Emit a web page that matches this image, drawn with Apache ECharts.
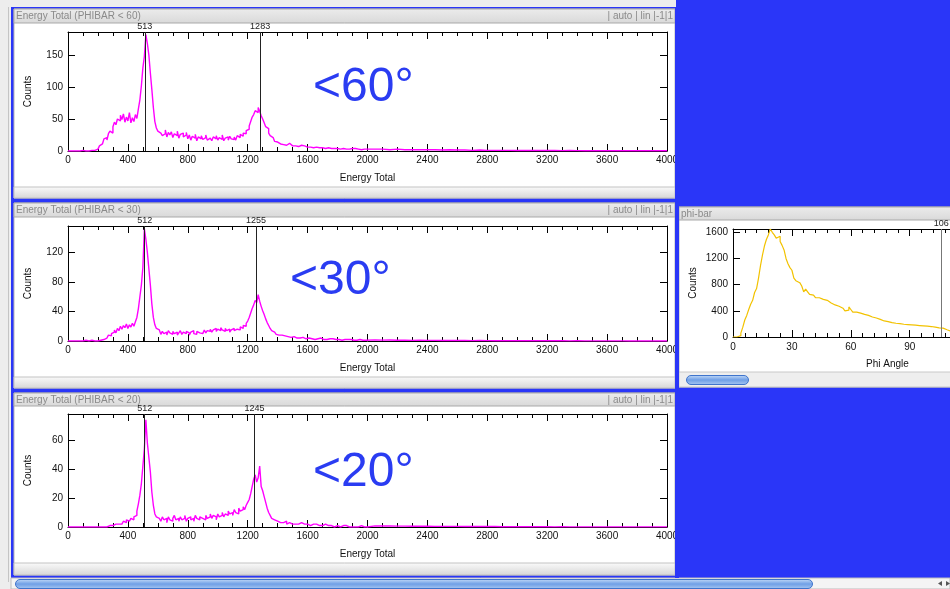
<!DOCTYPE html>
<html><head><meta charset="utf-8">
<script src="https://cdn.jsdelivr.net/npm/echarts@6/dist/echarts.min.js"></script>
<style>html,body{margin:0;padding:0;background:#2a36f8;overflow:hidden}#c{width:950px;height:589px}</style>
</head><body><div id="c"></div>
<script>
// ---------- DATA ----------
// Energy Total histograms: 10-unit bins from 0 to 2000, then 50-unit bins from 2000 to 4000
const energyFineBin = 10, energyTailBin = 50, energyTailStart = 2000, energyMax = 4000;
const energyTicks = [0, 400, 800, 1200, 1600, 2000, 2400, 2800, 3200, 3600, 4000];

const counts60Fine = [
 0,0,0,0,0,0,1,0,0,1,0,0,1,0,1,1,0,1,2,
 3,5,8,11,14,19,
 21,17,27,31,28,38,45,
 41,50,47,56,49,
 58,45,53,47,60,44,52,46,57,
 51,66,80,102,130,148,182,168,150,122,96,68,46,36,31,
 28,31,24,27,33,22,29,25,30,21,27,24,31,20,26,28,22,25,29,
 19,25,17,23,20,26,16,22,19,24,18,21,25,17,20,23,16,22,19,24,17,21,18,25,16,20,22,17,23,19,
 18,22,17,24,21,26,23,28,27,32,
 34,39,46,53,57,63,60,68,62,55,
 50,44,38,35,28,24,21,18,15,14,
 13,11,12,10,11,9,10,12,9,8,10,8,9,7,8,9,6,8,7,6,
 7,6,8,5,7,6,6,5,7,5,6,4,6,5,5,4,6,4,5,4,5,3,5,4,4,3,5,3,4,4,3,4,3,3,4,2,3,3,2,3
];
const counts60Tail = [3,3,2,3,2,2,2,2,2,1.5,2,1.5,1.5,1,1.5,1,1,1,1,0.8,1,0.8,0.8,0.7,0.8,0.6,0.7,0.6,0.5,0.6,0.5,0.5,0.4,0.5,0.4,0.4,0.3,0.4,0.3,0.3];

const counts30Fine = [
 0,0,0,0,0,0,0,0,0,0,0,1,0,0,0,1,0,0,1,0,1,1,2,
 2,3,4,6,8,7,10,
 12,15,11,17,14,20,16,21,18,23,17,22,19,24,20,
 26,32,44,60,
 76,100,152,138,120,98,76,50,32,22,17,15,
 14,9,13,10,12,8,14,11,9,13,10,12,8,11,14,9,12,10,13,11,8,12,14,10,9,13,11,12,10,
 12,15,11,14,13,16,12,15,17,13,16,14,18,15,13,17,14,16,12,15,17,14,16,18,15,19,17,21,20,24,
 27,32,38,44,49,55,52,63,54,47,
 41,36,30,25,21,17,14,12,11,9,
 8,7,8,6,7,5,6,7,5,4,6,5,4,5,4,3,5,4,3,4,
 4,3,3,4,2,3,3,2,4,3,2,3,2,2,3,2,3,2,2,1,2,2,1,2,2,1,2,1,2,1,1,2,1,1,2,1,1,1,1,1
];
const counts30Tail = [1.5,1.2,1.3,1,1.1,0.9,1,0.8,0.8,0.7,0.7,0.6,0.6,0.5,0.6,0.5,0.4,0.5,0.4,0.4,0.3,0.4,0.3,0.3,0.3,0.3,0.2,0.3,0.2,0.2,0.2,0.2,0.2,0.2,0.1,0.2,0.1,0.1,0.1,0.1];

const counts20Fine = [
 0,0,0,0,0,0,0,0,0,0,0,0,0,0,0,0,0,0,0,0,0,0,0,0,1,0,0,1,0,1,
 1,2,1,2,3,2,3,4,3,5,4,5,6,5,7,
 8,11,16,22,30,
 42,54,74,58,48,38,24,15,9,7,6,
 6,4,7,5,6,3,7,5,4,6,8,5,6,4,7,5,6,8,4,6,7,5,6,4,8,6,5,7,6,
 7,5,8,6,7,9,6,8,7,5,9,7,8,10,7,9,8,11,9,10,8,12,10,9,13,11,12,14,12,15,
 17,19,23,28,33,36,31,34,42,28,
 25,21,17,13,10,8,6,5,5,4,
 4,3,4,3,3,4,2,3,3,2,3,2,3,2,2,3,2,2,1,2,
 2,1,2,2,1,2,1,1,2,1,1,2,1,1,1,1,1,0,1,1,1,0,1,1,0,1,1,0,1,0,1,0,1,0,0,1,0,0,1,0
];
const counts20Tail = [0.8,0.7,0.7,0.6,0.6,0.5,0.5,0.5,0.4,0.4,0.4,0.4,0.3,0.3,0.3,0.3,0.3,0.2,0.2,0.2,0.2,0.2,0.2,0.2,0.1,0.2,0.1,0.1,0.1,0.1,0.1,0.1,0.1,0.1,0.1,0.1,0.1,0.1,0.1,0.1];

const peaks60 = [513, 1283];
const peaks30 = [512, 1255];
const peaks20 = [512, 1245];

const countsMax = [186, 156, 78];
const countsStep = [50, 40, 20];

const panelTitles = ['Energy Total (PHIBAR < 60)', 'Energy Total (PHIBAR < 30)', 'Energy Total (PHIBAR < 20)'];
const panelControls = '| auto | lin |-1|1';
const angleNotes = ['<60°', '<30°', '<20°'];

// phi-bar histogram: 1-degree bins starting at 0
const phiCounts = [
 0,0,5,20,
 60,150,260,330,420,500,560,680,740,900,1090,1250,1390,1490,1560,1650,
 1600,1560,1510,1540,1460,1400,1330,1200,1120,1060,1020,900,860,830,800,780,
 690,730,690,650,640,620,600,600,590,575,570,560,530,520,510,490,
 475,470,450,440,420,400,410,460,420,380,380,370,365,350,345,340,
 330,320,305,295,290,280,270,255,245,250,235,230,220,215,210,205,
 205,200,195,190,190,185,185,180,180,175,175,170,170,168,165,160,
 160,155,150,145,140,140,135,125,110,95,90,85,80,78,75
];
const phiMarker = [106];
const phiTicks = [0, 30, 60, 90];
const phiVisibleMax = 110.5, phiCountMax = 1650, phiCountStep = 400;

// ---------- BUILD ----------
function energyPoints(fine, tail) {
  const pts = [];
  fine.forEach((v, i) => pts.push([i * energyFineBin, v]));
  tail.forEach((v, j) => pts.push([energyTailStart + j * energyTailBin, v]));
  pts.push([energyMax, tail[tail.length - 1]]);
  return pts;
}
const phiPoints = phiCounts.map((v, d) => [d, v]).concat([[phiCounts.length, phiCounts[phiCounts.length - 1]]]);

const FONT = 'Liberation Sans';
const BLUE = '#2a36f8';
const grids = [
  {left: 68, top: 32, width: 599, height: 119},
  {left: 68, top: 226, width: 599, height: 115},
  {left: 68, top: 414, width: 599, height: 113},
  {left: 733, top: 229, right: 0, height: 108}
];
const axisLine = {show: true, onZero: false, lineStyle: {color: '#000', width: 1}};
const xAxes = [], yAxes = [], series = [];
const energySets = [
  [counts60Fine, counts60Tail, peaks60],
  [counts30Fine, counts30Tail, peaks30],
  [counts20Fine, counts20Tail, peaks20]
];
function markLineOf(vals, color) {
  return {
    silent: true, symbol: ['none', 'none'], animation: false,
    lineStyle: {color: color, width: 1, type: 'solid'},
    label: {show: true, position: 'end', formatter: p => String(p.value), fontSize: 9, color: '#222', fontFamily: FONT, distance: 1},
    data: vals.map(v => ({xAxis: v}))
  };
}
energySets.forEach((set, k) => {
  const base = {gridIndex: k, type: 'value', min: 0, max: energyMax, interval: 400, splitLine: {show: false},
    axisLine: axisLine, axisTick: {inside: true, length: 7, lineStyle: {color: '#000'}},
    minorTick: {show: true, splitNumber: 4, length: 4, lineStyle: {color: '#000'}}};
  xAxes.push(Object.assign({}, base, {position: 'bottom', name: 'Energy Total', nameLocation: 'middle', nameGap: 22,
    nameTextStyle: {fontSize: 10, color: '#111', fontFamily: FONT},
    axisLabel: {fontSize: 10, color: '#111', fontFamily: FONT, margin: 4,
      formatter: v => (energyTicks.indexOf(v) >= 0 ? String(v) : '')}}));
  xAxes.push(Object.assign({}, base, {position: 'top', axisLabel: {show: false}}));
  const ybase = {gridIndex: k, type: 'value', min: 0, max: countsMax[k], interval: countsStep[k], splitLine: {show: false},
    axisLine: axisLine, axisTick: {inside: true, length: 7, lineStyle: {color: '#000'}}};
  yAxes.push(Object.assign({}, ybase, {position: 'left', name: 'Counts', nameLocation: 'middle', nameGap: 35, nameRotate: 90,
    nameTextStyle: {fontSize: 10, color: '#111', fontFamily: FONT},
    axisLabel: {fontSize: 10, color: '#111', fontFamily: FONT, margin: 5,
      formatter: v => (v % countsStep[k] === 0 ? String(v) : '')}}));
  yAxes.push(Object.assign({}, ybase, {position: 'right', axisLabel: {show: false}}));
  series.push({
    type: 'line', xAxisIndex: 2 * k, yAxisIndex: 2 * k, step: 'end', showSymbol: false, symbol: 'none',
    data: energyPoints(set[0], set[1]), lineStyle: {color: '#ff00ff', width: 1.4}, itemStyle: {color: '#ff00ff'},
    animation: false, clip: true, markLine: markLineOf(set[2], '#222')
  });
});
// phi-bar (plot area runs past the window edge, only the visible part is drawn)
const pxBase = {gridIndex: 3, type: 'value', min: 0, max: phiVisibleMax, interval: 30, splitLine: {show: false},
  axisLine: axisLine, axisTick: {inside: true, length: 7, lineStyle: {color: '#000'}},
  minorTick: {show: true, splitNumber: 5, length: 4, lineStyle: {color: '#000'}}};
xAxes.push(Object.assign({}, pxBase, {position: 'bottom', name: 'Phi Angle', nameLocation: 'middle', nameGap: 22,
  nameTextStyle: {fontSize: 10, color: '#111', fontFamily: FONT, padding: [0, 0, 0, 92]},
  axisLabel: {fontSize: 10, color: '#111', fontFamily: FONT, margin: 5, showMaxLabel: false,
    formatter: v => (phiTicks.indexOf(v) >= 0 ? String(v) : '')}}));
xAxes.push(Object.assign({}, pxBase, {position: 'top', axisLabel: {show: false}}));
yAxes.push({gridIndex: 3, type: 'value', min: 0, max: phiCountMax, interval: phiCountStep, position: 'left', splitLine: {show: false},
  axisLine: axisLine, axisTick: {inside: true, length: 7, lineStyle: {color: '#000'}},
  name: 'Counts', nameLocation: 'middle', nameGap: 35, nameRotate: 90,
  nameTextStyle: {fontSize: 10, color: '#111', fontFamily: FONT},
  axisLabel: {fontSize: 10, color: '#111', fontFamily: FONT, margin: 5, formatter: v => (v % phiCountStep === 0 ? String(v) : '')}});
series.push({
  type: 'line', xAxisIndex: 6, yAxisIndex: 6, step: 'end', showSymbol: false, symbol: 'none',
  data: phiPoints, lineStyle: {color: '#f2c200', width: 1.2}, itemStyle: {color: '#f2c200'},
  animation: false, clip: true, markLine: markLineOf(phiMarker, '#777')
});

// ---------- WINDOW FRAMES (graphic) ----------
const G = [];
function rect(x, y, w, h, fill, z, extra) {
  G.push(Object.assign({type: 'rect', shape: {x: x, y: y, width: w, height: h, r: (extra && extra.r) || 0},
    style: {fill: fill, stroke: extra && extra.stroke, lineWidth: extra && extra.lw || 0}, z: z, silent: true}));
}
function text(x, y, s, font, fill, align, z) {
  G.push({type: 'text', x: x, y: y, z: z, silent: true,
    style: {text: s, font: font, fill: fill, align: align || 'left', verticalAlign: 'middle'}});
}
const stripGrad = {type: 'linear', x: 0, y: 0, x2: 0, y2: 1, colorStops: [{offset: 0, color: '#fbfbfb'}, {offset: 1, color: '#d6d6d6'}]};
const titleGrad = {type: 'linear', x: 0, y: 0, x2: 0, y2: 1, colorStops: [{offset: 0, color: '#ececec'}, {offset: 1, color: '#d9d9d9'}]};
const thumbGrad = {type: 'linear', x: 0, y: 0, x2: 0, y2: 1, colorStops: [{offset: 0, color: '#c6dcf8'}, {offset: 0.5, color: '#6f9fe6'}, {offset: 1, color: '#a9c8f2'}]};

// outer desktop bits
rect(0, 0, 676, 7, '#ededed', -100);
rect(0, 0, 11, 589, '#ededed', -100);
rect(8, 7, 1, 575, '#c4c4c4', -99);
// energy panels
const panels = [
  {t: 9, tb: 23, sb: 187, b: 198},
  {t: 203, tb: 217, sb: 377, b: 388},
  {t: 393, tb: 406, sb: 563, b: 575}
];
panels.forEach((p, k) => {
  rect(14, p.t, 661, p.b - p.t, '#ffffff', -90, {stroke: '#b8b8b8', lw: 1});
  rect(14, p.t, 661, p.tb - p.t, titleGrad, -89, {stroke: '#a9a9a9', lw: 1});
  rect(14, p.sb, 661, p.b - p.sb, stripGrad, -89, {stroke: '#c2c2c2', lw: 1});
  text(16, (p.t + p.tb) / 2 + 0.5, panelTitles[k], '10px ' + FONT, '#8a8a8a', 'left', -80);
  text(673, (p.t + p.tb) / 2 + 0.5, panelControls, '10px ' + FONT, '#8a8a8a', 'right', -80);
});
// blue edge that clips the last tick label like the reference
rect(675, 7, 4, 571, BLUE, 100);
// phi panel
rect(679, 207, 272, 180, '#ffffff', -90, {stroke: '#b8b8b8', lw: 1});
rect(679, 207, 272, 13, titleGrad, -89, {stroke: '#a9a9a9', lw: 1});
text(681, 214, 'phi-bar', '10px ' + FONT, '#8a8a8a', 'left', -80);
rect(679, 372, 272, 15, '#eeeeee', -89, {stroke: '#c8c8c8', lw: 1});
rect(686.5, 375.5, 62, 9, thumbGrad, -88, {stroke: '#3f74cc', lw: 1, r: 4.5});
// bottom scroll bar
rect(11, 578, 939, 11, '#f4f4f4', -90, {stroke: '#bdbdbd', lw: 1});
rect(15.5, 579.5, 797, 9, thumbGrad, -88, {stroke: '#3f74cc', lw: 1, r: 4.5});
G.push({type: 'polygon', shape: {points: [[938, 583.5], [942, 581], [942, 586]]}, style: {fill: '#555'}, z: -80, silent: true});
G.push({type: 'polygon', shape: {points: [[950, 583.5], [946, 581], [946, 586]]}, style: {fill: '#555'}, z: -80, silent: true});
// big angle notes
const notePos = [[313, 88], [290, 281], [313, 473]];
angleNotes.forEach((s, k) => text(notePos[k][0], notePos[k][1], s, '48px ' + FONT, '#2a3cf2', 'left', 50));

const chart = echarts.init(document.getElementById('c'), null, {renderer: 'canvas'});
chart.setOption({
  backgroundColor: BLUE,
  animation: false,
  grid: grids,
  xAxis: xAxes,
  yAxis: yAxes,
  series: series,
  graphic: {elements: G}
});
</script>
</body></html>
